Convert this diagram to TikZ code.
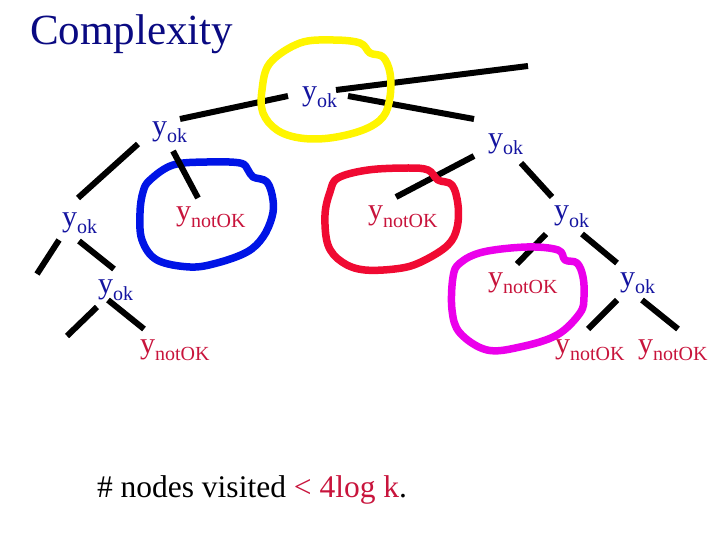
\documentclass[tikz,border=0pt]{standalone}
\usepackage{fontspec}
\setmainfont{Liberation Serif}
\usetikzlibrary{calc}
\definecolor{titlebl}{RGB}{10,10,130}
\definecolor{ybl}{RGB}{20,20,160}
\definecolor{nred}{RGB}{200,20,60}
\definecolor{cyel}{RGB}{255,245,0}
\definecolor{cblu}{RGB}{0,20,230}
\definecolor{cred}{RGB}{240,10,50}
\definecolor{cpnk}{RGB}{235,0,235}
\newcommand\yokT{\textcolor{ybl}{\fontsize{30}{30}\selectfont y\raisebox{-7pt}{\fontsize{20}{20}\selectfont ok}}}
\newcommand\ynotT{\textcolor{nred}{\fontsize{30}{30}\selectfont y\raisebox{-7pt}{\fontsize{20}{20}\selectfont notOK}}}
\tikzset{
  lab/.style={anchor=base west, inner sep=0pt, outer sep=0pt},
  edge/.style={line width=6pt, black, line cap=butt},
  loop/.style={line width=7.5pt, line join=round}
}
\begin{document}
\begin{tikzpicture}[x=1pt,y=-1pt]
\useasboundingbox (0,0) rectangle (720,540);
% title
\node[lab, text=titlebl, font=\fontsize{43}{43}\selectfont] (title) at (30,45) {Complexity};
% tree labels
\node[lab] (root) at (302,101) {\yokT};
\node[lab] (lc)   at (152,136) {\yokT};
\node[lab] (rc)   at (488,148) {\yokT};
\node[lab] (ll)   at (62,226)  {\yokT};
\node[lab] (lr)   at (176,221) {\ynotT};
\node[lab] (rl)   at (368,220) {\ynotT};
\node[lab] (rr)   at (554,220) {\yokT};
\node[lab] (llr)  at (98,293)  {\yokT};
\node[lab] (llrr) at (140,353) {\ynotT};
\node[lab] (rrl)  at (488,286) {\ynotT};
\node[lab] (rrr)  at (620,286) {\yokT};
\node[lab] (rrrl) at (555,353) {\ynotT};
\node[lab] (rrrr) at (638,353) {\ynotT};
% free ends
\coordinate (up) at (528,66);
\coordinate (llfree) at (37,274);
\coordinate (llrfree) at (67,336);
% blue loop (under edges)
\draw[loop, cblu] plot[smooth cycle, tension=0.6] coordinates {
 (150,180) (173,165) (207,162) (240,163) (248,170) (253,177) (267,182) (273,200)
 (272,217) (263,237) (247,252) (217,263) (190,267) (157,260) (142,240) (140,213) (143,192)};
% edges
\draw[edge] ($(root.base west)+(34,-11)$) -- (up);
\draw[edge] ($(root.base west)+(46,-5)$) -- ($(rc.base west)+(-14,-29)$);
\draw[edge] ($(root.base west)+(-14,-5)$) -- ($(lc.base west)+(28,-17)$);
\draw[edge] ($(lc.base west)+(-14,8)$) -- ($(ll.base west)+(16,-28)$);
\draw[edge] ($(lc.base west)+(21,15)$) -- ($(lr.base west)+(22,-23)$);
\draw[edge] ($(ll.base west)+(-3,14)$) -- (llfree);
\draw[edge] ($(ll.base west)+(17,15)$) -- ($(llr.base west)+(16,-24)$);
\draw[edge] ($(llr.base west)+(-1,14)$) -- (llrfree);
\draw[edge] ($(llr.base west)+(10,7)$) -- ($(llrr.base west)+(4,-24)$);
\draw[edge] ($(rc.base west)+(-14,8)$) -- ($(rl.base west)+(28,-23)$);
\draw[edge] ($(rc.base west)+(33,15)$) -- ($(rr.base west)+(-2,-23)$);
\draw[edge] ($(rr.base west)+(-8,14)$) -- ($(rrl.base west)+(29,-22)$);
\draw[edge] ($(rr.base west)+(28,14)$) -- ($(rrr.base west)+(-3,-23)$);
\draw[edge] ($(rrr.base west)+(-3,14)$) -- ($(rrrl.base west)+(33,-24)$);
\draw[edge] ($(rrr.base west)+(22,14)$) -- ($(rrrr.base west)+(40,-24)$);
% loops
\draw[loop, cyel] plot[smooth cycle, tension=0.6] coordinates {
 (270,63) (300,43) (333,40) (360,43) (370,53) (383,57) (390,73) (390,97)
 (383,117) (363,130) (330,138) (300,138) (277,130) (263,113) (262,90)};
\draw[loop, cred] plot[smooth cycle, tension=0.6] coordinates {
 (338,178) (368,170) (408,168) (428,170) (438,180) (452,185) (458,205) (457,228)
 (448,245) (425,260) (402,268) (365,270) (342,262) (328,245) (325,215) (330,192)};
\draw[loop, cpnk] plot[smooth cycle, tension=0.6] coordinates {
 (460,263) (483,252) (527,247) (558,250) (565,260) (577,263) (583,277) (584,297)
 (580,313) (557,335) (520,347) (487,350) (460,333) (452,310) (453,277)};
% bottom text
\node[lab, font=\fontsize{31.5}{31.5}\selectfont] (note) at (97,497)
 {\# nodes visited \textcolor{nred}{< 4log k}.};
\end{tikzpicture}
\end{document}
